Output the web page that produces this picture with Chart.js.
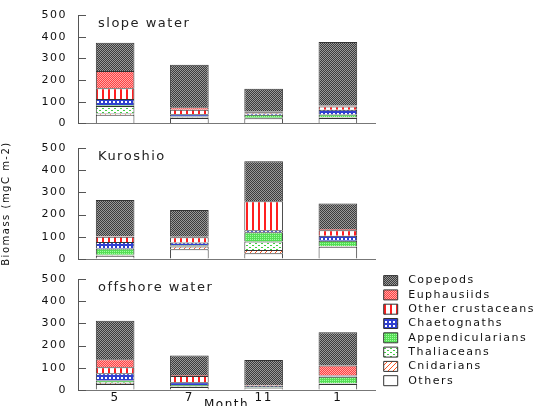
<!DOCTYPE html>
<html>
<head>
<meta charset="utf-8">
<script src="https://cdn.jsdelivr.net/npm/chart.js@4.4.0/dist/chart.umd.min.js"></script>
<style>
  html, body { margin: 0; padding: 0; background: #fff; overflow: hidden; }
  body { width: 545px; height: 406px; position: relative; }
  canvas { position: absolute; left: 0; }
</style>
</head>
<body>
<canvas id="slope" width="545" height="130" style="top:0px"></canvas>
<canvas id="kuroshio" width="545" height="145" style="top:133px"></canvas>
<canvas id="offshore" width="545" height="148" style="top:264px"></canvas>
<script>
// Meses (eje x)
const months = ['5', '7', '11', '1'];
const panelNames = ['slope water', 'Kuroshio', 'offshore water'];
const yTicks = [0, 100, 200, 300, 400, 500];

// Biomasa por grupo: [slope water, Kuroshio, offshore water], meses 5, 7, 11, 1
const others           = [[40, 25, 24, 25], [15, 44, 26, 55], [27, 13, 8, 27]];
const cnidarians       = [[6, 2, 0, 2],     [2, 12, 15, 2],   [5, 2, 1, 1]];
const thaliaceans      = [[34, 2, 2, 2],    [2, 2, 38, 2],    [3, 2, 1, 2]];
const appendicularians = [[4, 3, 14, 12],   [28, 4, 41, 23],  [8, 6, 2, 30]];
const chaetognaths     = [[29, 10, 6, 22],  [30, 12, 10, 23], [32, 12, 6, 2]];
const otherCrustaceans = [[49, 21, 5, 15],  [23, 24, 130, 25],[27, 28, 2, 3]];
const euphausiids      = [[80, 12, 4, 5],   [2, 2, 0, 5],     [36, 5, 2, 45]];
const copepods         = [[130, 195, 105, 292], [164, 121, 180, 115], [174, 87, 113, 150]];

// De abajo hacia arriba en la pila
const seriesNames = ['Others', 'Cnidarians', 'Thaliaceans', 'Appendicularians',
    'Chaetognaths', 'Other crustaceans', 'Euphausiids', 'Copepods'];
const seriesValues = [others, cnidarians, thaliaceans, appendicularians,
    chaetognaths, otherCrustaceans, euphausiids, copepods];

const plotRight = 375;

// Tramas de relleno
function pattern(w, h, draw) {
    const c = document.createElement('canvas');
    c.width = w;
    c.height = h;
    const g = c.getContext('2d');
    draw(g);
    return g.createPattern(c, 'repeat');
}
const fills = [
    '#ffffff',
    pattern(5, 5, g => {
        g.fillStyle = '#fff'; g.fillRect(0, 0, 5, 5);
        g.fillStyle = '#ff5522';
        for (let i = 0; i < 5; i++) g.fillRect(i, 4 - i, 1, 1);
    }),
    pattern(6, 4, g => {
        g.fillStyle = '#fff'; g.fillRect(0, 0, 6, 4);
        g.fillStyle = '#44cc44';
        g.fillRect(0, 0, 2, 1); g.fillRect(3, 2, 2, 1);
    }),
    pattern(2, 2, g => {
        g.fillStyle = '#55dd55'; g.fillRect(0, 0, 2, 2);
        g.fillStyle = '#a0ffa0'; g.fillRect(0, 0, 1, 1);
    }),
    pattern(4, 4, g => {
        g.fillStyle = '#3040d0'; g.fillRect(0, 0, 4, 4);
        g.fillStyle = '#fff'; g.fillRect(1, 1, 2, 2);
    }),
    pattern(6, 1, g => {
        g.fillStyle = '#fff'; g.fillRect(0, 0, 6, 1);
        g.fillStyle = '#ff2020'; g.fillRect(0, 0, 2, 1);
    }),
    pattern(2, 2, g => {
        g.fillStyle = '#ff4040'; g.fillRect(0, 0, 2, 2);
        g.fillStyle = '#ffa8a8'; g.fillRect(0, 0, 1, 1); g.fillRect(1, 1, 1, 1);
    }),
    pattern(2, 2, g => {
        g.fillStyle = '#3c3c3c'; g.fillRect(0, 0, 2, 2);
        g.fillStyle = '#999'; g.fillRect(0, 0, 1, 1); g.fillRect(1, 1, 1, 1);
    })
];

Chart.defaults.font.family = '"DejaVu Sans", sans-serif';
Chart.defaults.color = '#111';

// Texto ancho como en el original
const spacing = {
    id: 'spacing',
    beforeUpdate(chart) { chart.ctx.letterSpacing = '1.5px'; },
    beforeDraw(chart) { chart.ctx.letterSpacing = '1.5px'; }
};

// Nombre del panel y marcas hacia dentro en el eje y
const panelText = {
    id: 'panelText',
    afterDraw(chart, args, opts) {
        const { ctx, chartArea } = chart;
        const y = chart.scales.y;
        ctx.save();
        ctx.font = '13px "DejaVu Sans"';
        ctx.fillStyle = '#222';
        ctx.textBaseline = 'middle';
        ctx.fillText(opts.text, chartArea.left + 20, chartArea.top + 9);
        ctx.strokeStyle = '#555';
        ctx.lineWidth = 1;
        y.ticks.forEach(t => {
            const py = Math.round(y.getPixelForValue(t.value)) + 0.5;
            ctx.beginPath();
            ctx.moveTo(chartArea.left, py);
            ctx.lineTo(chartArea.left + 8, py);
            ctx.stroke();
        });
        ctx.restore();
    }
};

function buildPanel(id, p) {
    const last = p === 2;
    const datasets = seriesNames.map((name, i) => ({
        label: name,
        data: seriesValues[i][p],
        backgroundColor: fills[i],
        borderColor: '#333',
        borderWidth: 1,
        barPercentage: 0.52,
        categoryPercentage: 1
    }));

    const scales = {
        x: {
            stacked: true,
            grid: { drawOnChartArea: false, drawTicks: false },
            border: { color: '#777' },
            ticks: { display: last, font: { size: 12 }, padding: 1 },
            title: { display: last, text: 'Month', font: { size: 12 }, padding: 0 },
            afterFit: s => { s.height = last ? 22 : 0; }
        },
        y: {
            stacked: true,
            min: 0,
            max: 500,
            afterBuildTicks: s => { s.ticks = yTicks.map(v => ({ value: v })); },
            ticks: { font: { size: 11 }, padding: 0 },
            // marcas externas invisibles: solo separan las etiquetas del eje
            grid: { drawOnChartArea: false, drawTicks: true, tickLength: 11, tickColor: 'rgba(0,0,0,0)' },
            border: { color: '#555' },
            title: { display: p === 1, text: 'Biomass (mgC m-2)', font: { size: 10 }, padding: 0 },
            afterFit: s => { s.width = 78; }
        }
    };
    if (last) {
        // espacio entre el área del gráfico y la leyenda
        scales.gap = {
            type: 'linear',
            position: 'right',
            ticks: { display: false },
            grid: { display: false },
            border: { display: false },
            afterFit: s => { s.width = Math.max(0, 545 - s.chart.legend.width - plotRight); }
        };
    }

    let padding = { top: 15, right: 545 - plotRight, bottom: 4 };
    if (p === 1) padding = { top: 15, right: 545 - plotRight, bottom: 19 };
    if (last) padding = { top: 7.8, right: 0, bottom: 0 };

    return new Chart(document.getElementById(id), {
        type: 'bar',
        data: { labels: months, datasets: datasets },
        options: {
            responsive: false,
            animation: false,
            devicePixelRatio: 1,
            layout: { padding: padding },
            scales: scales,
            plugins: {
                panelText: { text: panelNames[p] },
                tooltip: { enabled: false },
                title: { display: last, text: '', fullSize: false, padding: 0, font: { size: 6 } },
                legend: {
                    display: last,
                    position: 'right',
                    align: 'start',
                    reverse: true,
                    maxWidth: 170,
                    labels: {
                        boxWidth: 14,
                        boxHeight: 10,
                        padding: 3.3,
                        font: { size: 11 },
                        generateLabels: chart => Chart.defaults.plugins.legend.labels.generateLabels(chart)
                            .map(l => Object.assign(l, { text: ' ' + l.text }))
                    }
                }
            }
        },
        plugins: [spacing, panelText]
    });
}

buildPanel('slope', 0);
buildPanel('kuroshio', 1);
buildPanel('offshore', 2);
</script>
</body>
</html>
